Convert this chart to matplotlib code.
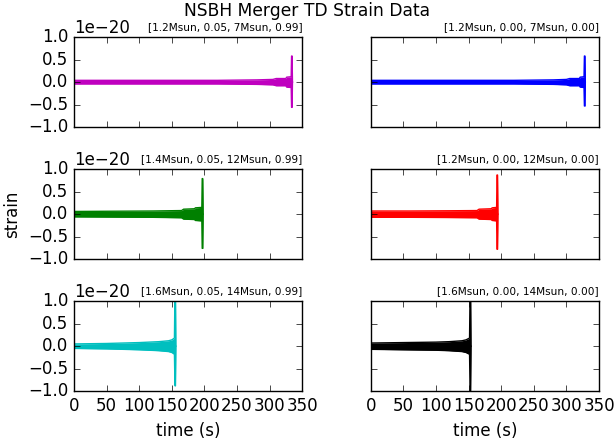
import matplotlib

matplotlib.use("Agg")
import matplotlib.pyplot as plt

# panel titles and line colours, in row order (left, right)
titles = [
    "[1.2Msun, 0.05, 7Msun, 0.99]", "[1.2Msun, 0.00, 7Msun, 0.00]",
    "[1.4Msun, 0.05, 12Msun, 0.99]", "[1.2Msun, 0.00, 12Msun, 0.00]",
    "[1.6Msun, 0.05, 14Msun, 0.99]", "[1.6Msun, 0.00, 14Msun, 0.00]",
]
colors = ["m", "b", "g", "r", "c", "k"]

# envelope of each strain trace (units of 1e-20)
times = [
    [0, 100, 220, 280, 305, 310, 325, 326, 333, 333.6, 334.4, 335],
    [0, 100, 220, 280, 300, 305, 320, 321, 327, 327.6, 328.4, 329],
    [0, 60, 120, 165, 168, 185, 186, 196, 196.6, 197.4, 198],
    [0, 60, 120, 163, 166, 185, 186, 193, 193.6, 194.4, 195],
    [0, 50, 100, 130, 145, 150, 154, 154.8, 155.6, 156.2],
    [0, 50, 100, 120, 140, 146, 151.5, 152.3, 153.1, 153.7],
]
upper = [
    [0.04, 0.04, 0.04, 0.05, 0.06, 0.08, 0.08, 0.11, 0.12, 0.58, 0.58, 0.0],
    [0.04, 0.04, 0.04, 0.05, 0.06, 0.08, 0.08, 0.11, 0.12, 0.58, 0.58, 0.0],
    [0.06, 0.065, 0.07, 0.08, 0.11, 0.12, 0.14, 0.15, 0.79, 0.79, 0.0],
    [0.07, 0.07, 0.075, 0.08, 0.11, 0.12, 0.14, 0.15, 0.87, 0.87, 0.0],
    [0.05, 0.06, 0.08, 0.10, 0.12, 0.14, 0.18, 1.2, 1.2, 0.0],
    [0.07, 0.08, 0.09, 0.10, 0.12, 0.14, 0.18, 1.2, 1.2, 0.0],
]
lower = [
    [-0.04, -0.04, -0.04, -0.05, -0.06, -0.08, -0.08, -0.11, -0.12, -0.56, -0.56, 0.0],
    [-0.04, -0.04, -0.04, -0.05, -0.06, -0.08, -0.08, -0.11, -0.12, -0.53, -0.53, 0.0],
    [-0.06, -0.065, -0.07, -0.08, -0.11, -0.12, -0.14, -0.15, -0.76, -0.76, 0.0],
    [-0.07, -0.07, -0.075, -0.08, -0.11, -0.12, -0.14, -0.15, -0.78, -0.78, 0.0],
    [-0.05, -0.06, -0.08, -0.10, -0.12, -0.14, -0.18, -0.88, -0.88, 0.0],
    [-0.07, -0.08, -0.09, -0.10, -0.12, -0.14, -0.18, -0.99, -0.99, 0.0],
]
scale = 1e-20

plt.style.use("classic")
fig, axes = plt.subplots(3, 2, figsize=(6.14, 4.42), dpi=100, sharex=True, sharey=True)
fig.patch.set_facecolor("white")
fig.subplots_adjust(left=0.1205, right=0.9756, top=0.916, bottom=0.115, wspace=0.30, hspace=0.467)

for ax, t, up, lo, c, title in zip(axes.flat, times, upper, lower, colors, titles):
    up = [v * scale for v in up]
    lo = [v * scale for v in lo]
    ax.fill_between(t, lo, up, color=c, linewidth=0)
    ax.plot(t, up, color=c, linewidth=1)
    ax.plot(t, lo, color=c, linewidth=1)
    ax.set_title(title, loc="right", fontsize=7.6)
    ax.set_xlim(0, 350)
    ax.set_ylim(-1e-20, 1e-20)
    ax.set_xticks(range(0, 351, 50))
    ax.set_yticks([-1e-20, -0.5e-20, 0, 0.5e-20, 1e-20])

axes[1, 0].set_ylabel("strain")
axes[2, 0].set_xlabel("time (s)")
axes[2, 1].set_xlabel("time (s)")
fig.suptitle("NSBH Merger TD Strain Data", fontsize=12.3, y=0.995)

fig.savefig("out.png", dpi=100, facecolor="white")
